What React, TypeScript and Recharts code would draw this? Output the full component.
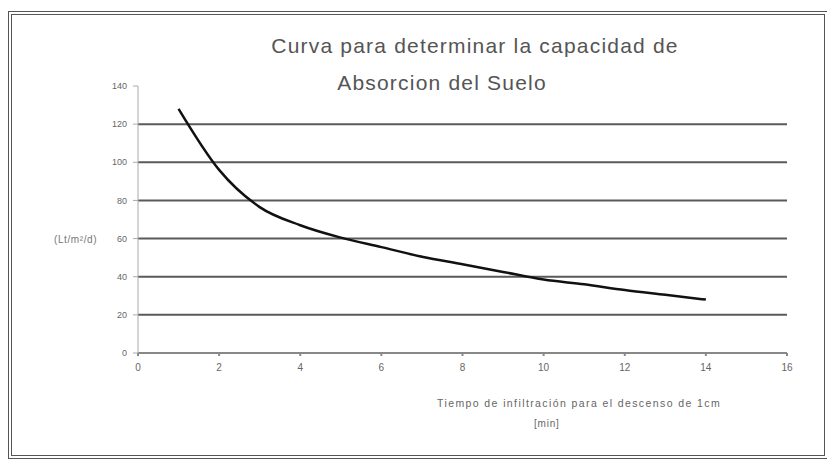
import React from 'react';
import { LineChart, Line, XAxis, YAxis, ReferenceLine } from 'recharts';

// tiempo (min) vs capacidad de absorcion
const tiempos = [1, 2, 3, 4, 5, 6, 7, 8, 9, 10, 11, 12, 13, 14];
const capacidad = [128, 96, 76.5, 67, 60.5, 55.5, 50.5, 46.5, 42.5, 38.5, 36, 33, 30.5, 28];
const xTicks = [0, 2, 4, 6, 8, 10, 12, 14, 16];
const yTicks = [0, 20, 40, 60, 80, 100, 120, 140];
const gridValues = [20, 40, 60, 80, 100, 120];

const data = tiempos.map((t, i) => ({ t, c: capacidad[i] }));

const font = '"Liberation Sans", Arial, sans-serif';

export default function App() {
  return (
    <div style={{ position: 'absolute', left: 0, top: 0, width: 827, height: 461, background: '#fff', fontFamily: font }}>
      <div
        style={{
          position: 'absolute',
          left: 8,
          top: 11,
          width: 812,
          height: 440,
          border: '4px double #555',
        }}
      />
      <div style={{ position: 'absolute', left: 0, top: 0 }}>
        <LineChart width={827} height={461} data={data} margin={{ top: 86, right: 40, bottom: 78, left: 98 }}>
          {gridValues.map((v) => (
            <ReferenceLine key={v} y={v} stroke="#5a5a5a" strokeWidth={2} />
          ))}
          <XAxis
            dataKey="t"
            type="number"
            domain={[0, 16]}
            ticks={xTicks}
            stroke="#888"
            strokeWidth={2}
            tickSize={3}
            tick={{ fontSize: 10, fill: '#666', fontFamily: font }}
            tickMargin={8}
            height={30}
          />
          <YAxis
            type="number"
            domain={[0, 140]}
            ticks={yTicks}
            stroke="#aaa"
            tickSize={5}
            tick={{ fontSize: 9, fill: '#666', fontFamily: font }}
            tickMargin={6}
            width={40}
          />
          <Line
            type="monotone"
            dataKey="c"
            stroke="#111"
            strokeWidth={2.5}
            dot={false}
            isAnimationActive={false}
          />
        </LineChart>
      </div>
      <div style={{ position: 'absolute', left: 200, width: 550, top: 34, textAlign: 'center', fontSize: 21, letterSpacing: 1.2, color: '#555' }}>
        Curva para determinar la capacidad de
      </div>
      <div style={{ position: 'absolute', left: 167, width: 550, top: 71, textAlign: 'center', fontSize: 21, letterSpacing: 1.2, color: '#555' }}>
        Absorcion del Suelo
      </div>
      <div style={{ position: 'absolute', left: 54, top: 234, fontSize: 10, letterSpacing: 0.6, color: '#777' }}>(Lt/m²/d)</div>
      <div style={{ position: 'absolute', left: 437, top: 397, fontSize: 10.5, letterSpacing: 1.4, color: '#666' }}>
        Tiempo de infiltración para el descenso de 1cm
      </div>
      <div style={{ position: 'absolute', left: 534, top: 418, fontSize: 10, letterSpacing: 0.8, color: '#666' }}>[min]</div>
    </div>
  );
}
